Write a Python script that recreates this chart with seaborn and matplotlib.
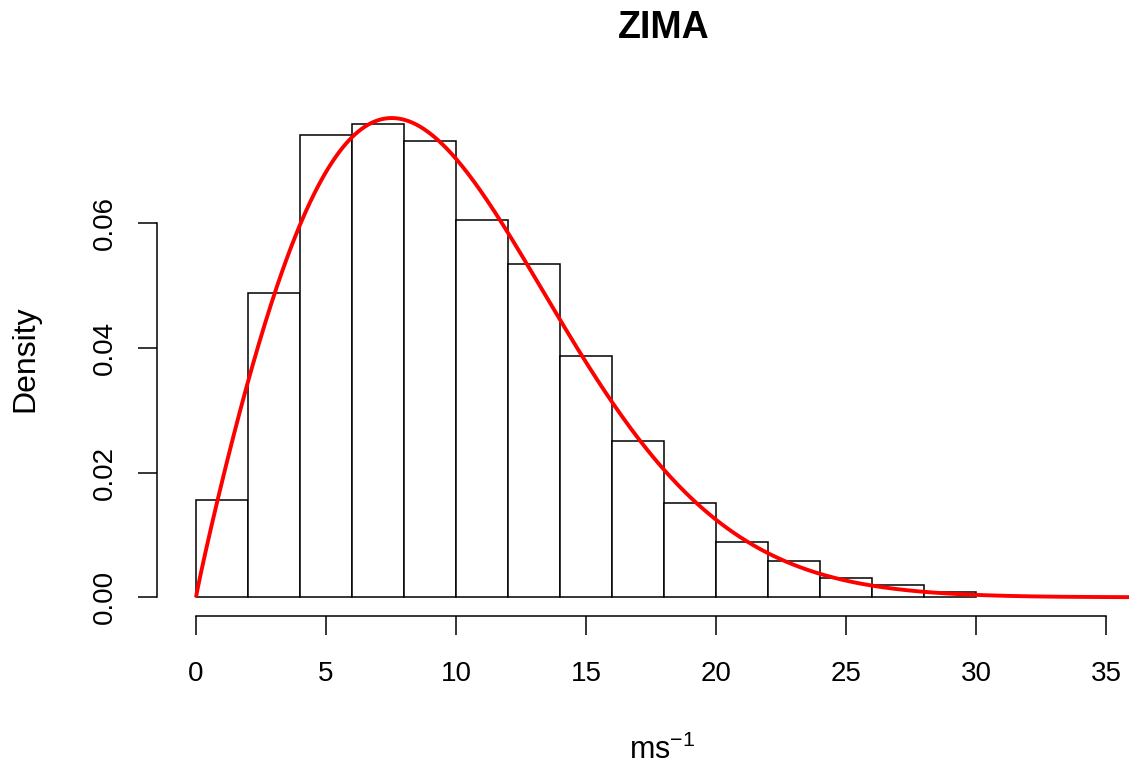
import numpy as np
import pandas as pd
import matplotlib
matplotlib.use("Agg")
import matplotlib.pyplot as plt
import seaborn as sns

# Histogram of wind speed (density scale), 2 m/s bins
bin_edges = [0, 2, 4, 6, 8, 10, 12, 14, 16, 18, 20, 22, 24, 26, 28, 30]
densities = [0.0156, 0.0489, 0.0741, 0.0759, 0.0732, 0.0606, 0.0534, 0.0387,
             0.0250, 0.0151, 0.0088, 0.0059, 0.0031, 0.0019, 0.0008]

# Fitted Weibull distribution parameters
weibull_shape = 1.94
weibull_scale = 10.94

x_ticks = [0, 5, 10, 15, 20, 25, 30, 35]
y_ticks = [0.00, 0.02, 0.04, 0.06]
y_tick_labels = ["0.00", "0.02", "0.04", "0.06"]

sns.set_theme(style="white")
plt.rcParams["font.family"] = ["Liberation Sans", "DejaVu Sans"]
plt.rcParams["mathtext.fontset"] = "custom"
plt.rcParams["mathtext.rm"] = "Liberation Sans"
plt.rcParams["mathtext.it"] = "Liberation Sans"
plt.rcParams["mathtext.bf"] = "Liberation Sans:bold"
plt.rcParams["text.color"] = "black"

W, H = 1129, 766
fig = plt.figure(figsize=(W / 100, H / 100), dpi=100)

# axes placed in pixel terms
left_px, right_px, top_px, bottom_px = 157, 1129, 111, 616
ax = fig.add_axes([left_px / W, 1 - bottom_px / H,
                   (right_px - left_px) / W, (bottom_px - top_px) / H])

px_per_x = 26.0
x0_px = 196.0
px_per_y = 6233.0
y0_px = 597.3
ax.set_xlim((left_px - x0_px) / px_per_x, (right_px - x0_px) / px_per_x)
ax.set_ylim(-(bottom_px - y0_px) / px_per_y, (y0_px - top_px) / px_per_y)

centers = [(a + b) / 2 for a, b in zip(bin_edges[:-1], bin_edges[1:])]
hist_df = pd.DataFrame({"speed": centers, "density": densities})
sns.histplot(data=hist_df, x="speed", weights="density", bins=bin_edges,
             stat="count", color="white", edgecolor="black", linewidth=1.1,
             alpha=1.0, ax=ax)

# Weibull density curve
xs = np.linspace(0, 36, 600)
k, lam = weibull_shape, weibull_scale
pdf = (k / lam) * (xs / lam) ** (k - 1) * np.exp(-(xs / lam) ** k)
curve_df = pd.DataFrame({"speed": xs, "pdf": pdf})
sns.lineplot(data=curve_df, x="speed", y="pdf", color="red", linewidth=2.8,
             ax=ax, solid_capstyle="butt")

# R-style detached axes
for s in ["top", "right"]:
    ax.spines[s].set_visible(False)
ax.spines["left"].set_bounds(0, 0.06)
ax.spines["bottom"].set_bounds(0, 35)
for s in ["left", "bottom"]:
    ax.spines[s].set_color("black")
    ax.spines[s].set_linewidth(1.1)

ax.set_xticks(x_ticks)
ax.set_xticklabels([str(t) for t in x_ticks])
ax.set_yticks(y_ticks)
ax.set_yticklabels(y_tick_labels, rotation=90, va="center")
ax.tick_params(axis="both", which="both", direction="out", length=13.5,
               width=1.1, color="black", labelsize=20, labelcolor="black",
               bottom=True, left=True)
ax.tick_params(axis="x", pad=19)
ax.tick_params(axis="y", pad=15)
ax.set_xlabel("")
ax.set_ylabel("")
ax.grid(False)

fig.text(663.5 / W, 1 - 28 / H, "ZIMA", ha="center", va="center",
         fontsize=27, fontweight="bold", color="black")
fig.text(662 / W, 1 - 750 / H, r"ms$^{-1}$", ha="center", va="center",
         fontsize=22, color="black")
fig.text(25 / W, 1 - 359 / H, "Density", ha="center", va="center",
         rotation=90, fontsize=23, color="black")

fig.savefig("out.png", dpi=100)
